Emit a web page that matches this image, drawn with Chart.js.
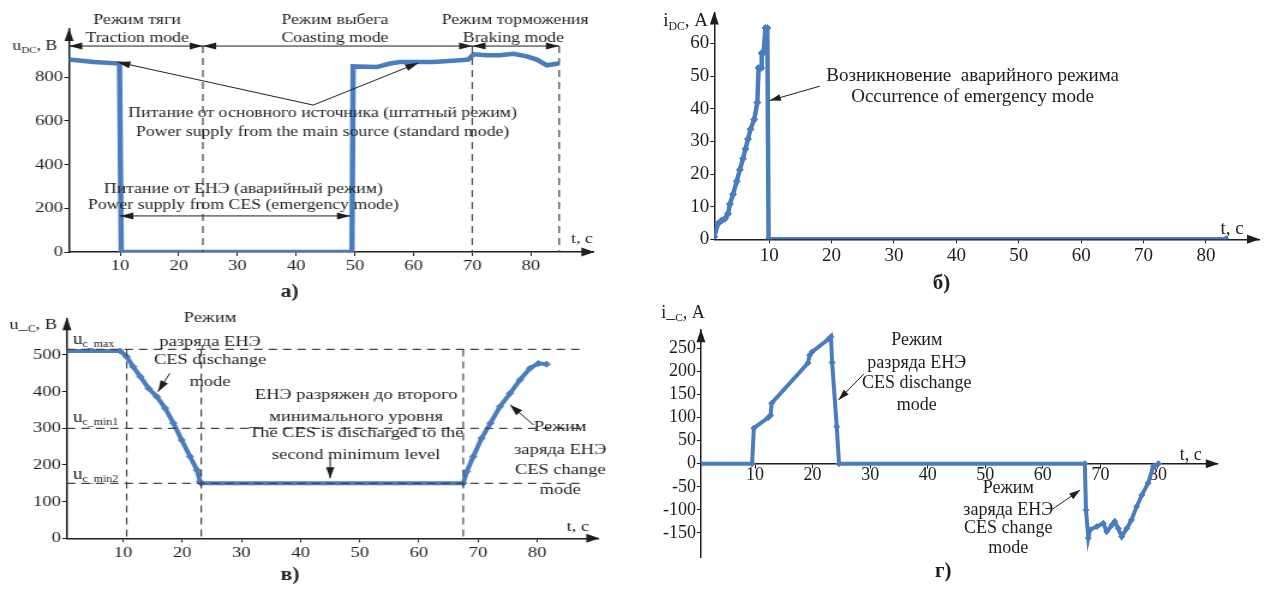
<!DOCTYPE html>
<html>
<head>
<meta charset="utf-8">
<script src="https://cdn.jsdelivr.net/npm/chart.js@4.4.1/dist/chart.umd.min.js"></script>
<style>
  html, body { margin: 0; padding: 0; background: #fff; }
  #wrap { position: relative; width: 1264px; height: 590px; overflow: hidden; }
  #wrap canvas { position: absolute; left: 0; top: 0; }
</style>
</head>
<body>
<div id="wrap">
  <canvas id="chA"></canvas>
  <canvas id="chB"></canvas>
  <canvas id="chC"></canvas>
  <canvas id="chD"></canvas>
</div>
<script>
// а) DC link voltage
const tA = [1.3, 5.5, 9.9, 10.2, 30, 49.5, 49.7, 53.7, 56.0, 57.7, 63.4, 67.9, 69.3, 70.2, 72.5, 74.7, 77.0, 79.3, 81.0, 82.7, 84.7];
const uDC = [880, 869, 862, 0, 0, 0, 849, 846, 862, 869, 869, 877, 880, 904, 900, 900, 907, 895, 880, 854, 862];
const ticksXA = [10, 20, 30, 40, 50, 60, 70, 80];
const ticksYA = [0, 200, 400, 600, 800];

// б) DC current
const tB = [1.2, 1.8, 2.4, 2.9, 3.4, 3.7, 4.2, 4.8, 5.3, 5.8, 6.2, 6.6, 7.0, 7.6, 8.1, 8.3, 8.7, 8.8, 9.1, 9.4, 9.7, 9.9, 83.2];
const iDC = [0.8, 4.8, 5.8, 6.3, 7.8, 10.8, 13.8, 17.8, 21.3, 24.7, 27.7, 30.7, 33.7, 36.7, 41.9, 52.5, 52.5, 57, 57.2, 64.7, 64.7, 0, 0];
const ticksXB = [10, 20, 30, 40, 50, 60, 70, 80];
const ticksYB = [0, 10, 20, 30, 40, 50, 60];

// в) storage voltage
const tC = [0.5, 9.5, 10.6, 11.7, 12.9, 14.3, 15.7, 17.1, 18.5, 19.9, 21.3, 22.5, 23.0, 23.2, 67.5, 68.1, 69.2, 70.6, 72.1, 73.7, 75.4, 77.1, 78.8, 80.2, 81.6];
const uC = [511, 511, 495, 468, 441, 409, 386, 355, 314, 268, 223, 186, 155, 150, 150, 182, 223, 273, 314, 359, 395, 432, 464, 477, 475];
const ticksXC = [10, 20, 30, 40, 50, 60, 70, 80];
const ticksYC = [0, 100, 200, 300, 400, 500];
const levelsC = [515, 300, 150];      // uc_max, uc_min1, uc_min2
const switchC = [10.6, 23.2, 67.5];

// г) storage current
const tD = [0.6, 9.5, 9.8, 12.3, 12.7, 12.9, 19.2, 19.5, 19.9, 22.8, 23.2, 23.4, 24.2, 24.6, 67.3, 67.5, 67.9, 68.2, 69.4, 70.5, 71.1, 72.0, 72.5, 73.1, 73.7, 74.6, 75.4, 76.3, 77.2, 78.3, 79.2, 80.1];
const iC = [0, 0, 77, 100, 105, 131, 218, 235, 242, 270, 275, 219, 80, 0, 0, -100, -161, -143, -136, -129, -147, -133, -125, -140, -158, -140, -122, -93, -68, -42, -6, 0];
const ticksXD = [10, 20, 30, 40, 50, 60, 70, 80];
const ticksYD = [-150, -100, -50, 0, 50, 100, 150, 200, 250];

const modesA = [1.3, 24.1, 70, 84.8];   // mode boundaries on panel а)

const FONT = '"Liberation Serif", "Times New Roman", serif';
const BLUE = '#4a7dbf';
const INK = '#1e1e1e';

const pts = (xs, ys) => xs.map((x, i) => ({ x, y: ys[i] }));

function head(ctx, x, y, dx, dy, len = 11, half = 3.5) {
  const px = -dy, py = dx;
  ctx.beginPath();
  ctx.moveTo(x, y);
  ctx.lineTo(x - dx * len + px * half, y - dy * len + py * half);
  ctx.lineTo(x - dx * len - px * half, y - dy * len - py * half);
  ctx.closePath();
  ctx.fill();
}

function arrow(ctx, x1, y1, x2, y2, both) {
  const d = Math.hypot(x2 - x1, y2 - y1), dx = (x2 - x1) / d, dy = (y2 - y1) / d;
  ctx.beginPath();
  ctx.moveTo(x1, y1);
  ctx.lineTo(x2, y2);
  ctx.stroke();
  head(ctx, x2, y2, dx, dy);
  if (both) head(ctx, x1, y1, -dx, -dy);
}

function rich(ctx, parts, x, y, size, align) {
  const fonts = parts.map(([, sub]) => `${sub ? size * 0.62 : size}px ${FONT}`);
  const widths = parts.map(([t], i) => { ctx.font = fonts[i]; return ctx.measureText(t).width; });
  const total = widths.reduce((a, b) => a + b, 0);
  let cx = align === 'right' ? x - total : align === 'center' ? x - total / 2 : x;
  ctx.textAlign = 'left';
  parts.forEach(([t, sub], i) => {
    ctx.font = fonts[i];
    ctx.fillText(t, cx, sub ? y + size * 0.28 : y);
    cx += widths[i];
  });
}

const notesA = [
  { k: 'rich', parts: [['u', 0], ['DC', 1], [', B', 0]], x: -0.7, y: 942, align: 'right' },
  { k: 'text', t: 'Режим тяги', x: 12.9, y: 1061 },
  { k: 'text', t: 'Traction mode', x: 12.9, y: 979 },
  { k: 'text', t: 'Режим выбега', x: 46.6, y: 1061 },
  { k: 'text', t: 'Coasting mode', x: 46.6, y: 979 },
  { k: 'text', t: 'Режим торможения', x: 77.3, y: 1061 },
  { k: 'text', t: 'Braking mode', x: 77.0, y: 979 },
  { k: 'arrow', x1: modesA[0], y1: 942, x2: modesA[1], y2: 942, both: true },
  { k: 'arrow', x1: modesA[1], y1: 942, x2: modesA[2], y2: 942, both: true },
  { k: 'arrow', x1: modesA[2], y1: 942, x2: modesA[3], y2: 942, both: true },
  { k: 'dashV', x: modesA[1], y1: 942, y2: 0 },
  { k: 'dashV', x: modesA[2], y1: 942, y2: 0 },
  { k: 'dashV', x: modesA[3], y1: 942, y2: 0 },
  { k: 'text', t: 'Питание от основного источника (штатный режим)', x: 44.5, y: 636 },
  { k: 'text', t: 'Power supply from the main source (standard mode)', x: 44.5, y: 549 },
  { k: 'arrow', x1: 42.9, y1: 672, x2: 9.5, y2: 869 },
  { k: 'arrow', x1: 42.9, y1: 672, x2: 60.8, y2: 865 },
  { k: 'text', t: 'Питание от ЕНЭ (аварийный режим)', x: 31, y: 286 },
  { k: 'text', t: 'Power supply from CES (emergency mode)', x: 31, y: 215 },
  { k: 'arrow', x1: 10, y1: 165, x2: 49.2, y2: 165, both: true },
  { k: 'text', t: 't, c', x: 88.7, y: 59 },
  { k: 'text', t: 'а)', x: 38.9, y: -183, bold: true }
];

const notesB = [
  { k: 'rich', parts: [['i', 0], ['DC', 1], [', A', 0]], x: 0.2, y: 66.8, align: 'right' },
  { k: 'text', t: 'Возникновение  аварийного режима', x: 42.6, y: 50.1 },
  { k: 'text', t: 'Occurrence of emergency mode', x: 42.6, y: 43.5 },
  { k: 'arrow', x1: 18.1, y1: 46.9, x2: 10.1, y2: 42.5 },
  { k: 'text', t: 't, c', x: 84.2, y: 3.3 },
  { k: 'text', t: 'б)', x: 37.6, y: -13.7, bold: true }
];

const notesC = [
  { k: 'rich', parts: [['u_', 0], ['C', 1], [', B', 0]], x: -1.17, y: 582, align: 'right' },
  { k: 'dashH', y: levelsC[0], x1: 0.5, x2: 87.8 },
  { k: 'dashH', y: levelsC[1], x1: 0.5, x2: 87.8 },
  { k: 'dashH', y: levelsC[2], x1: 0.5, x2: 87.8 },
  { k: 'dashV', x: switchC[0], y1: levelsC[0], y2: 0 },
  { k: 'dashV', x: switchC[1], y1: levelsC[0], y2: 0 },
  { k: 'dashV', x: switchC[2], y1: levelsC[0], y2: 0 },
  { k: 'rich', parts: [['u', 0], ['c_max', 1]], x: 1.5, y: 541, size: 16 },
  { k: 'rich', parts: [['u', 0], ['c_min1', 1]], x: 1.5, y: 328, size: 16 },
  { k: 'rich', parts: [['u', 0], ['c_min2', 1]], x: 1.5, y: 173, size: 16 },
  { k: 'text', t: 'Режим', x: 24.7, y: 601 },
  { k: 'text', t: 'разряда ЕНЭ', x: 24.7, y: 535 },
  { k: 'text', t: 'CES dischange', x: 24.7, y: 486 },
  { k: 'text', t: 'mode', x: 24.7, y: 426 },
  { k: 'arrow', x1: 17.9, y1: 450, x2: 15.9, y2: 400 },
  { k: 'text', t: 'ЕНЭ разряжен до второго', x: 49.4, y: 391 },
  { k: 'text', t: 'минимального уровня', x: 49.4, y: 332 },
  { k: 'text', t: 'The CES is discharged to the', x: 49.4, y: 286 },
  { k: 'text', t: 'second minimum level', x: 49.4, y: 227 },
  { k: 'arrow', x1: 45, y1: 222, x2: 45, y2: 164 },
  { k: 'text', t: 'Режим', x: 83.9, y: 304 },
  { k: 'text', t: 'заряда ЕНЭ', x: 83.9, y: 241 },
  { k: 'text', t: 'CES change', x: 83.9, y: 186 },
  { k: 'text', t: 'mode', x: 83.9, y: 132 },
  { k: 'arrow', x1: 79.4, y1: 309, x2: 75.4, y2: 364 },
  { k: 'text', t: 't, c', x: 86.9, y: 32 },
  { k: 'text', t: 'в)', x: 38.2, y: -100, bold: true }
];

const notesD = [
  { k: 'rich', parts: [['i_', 0], ['C', 1], [', A', 0]], x: -2.5, y: 326, align: 'center' },
  { k: 'text', t: 'Режим', x: 38.1, y: 268 },
  { k: 'text', t: 'разряда ЕНЭ', x: 38.1, y: 217 },
  { k: 'text', t: 'CES dischange', x: 38.1, y: 174 },
  { k: 'text', t: 'mode', x: 38.1, y: 127 },
  { k: 'arrow', x1: 28.9, y1: 194, x2: 24.5, y2: 138 },
  { k: 'text', t: 'Режим', x: 54, y: -53 },
  { k: 'text', t: 'заряда ЕНЭ', x: 54, y: -100 },
  { k: 'text', t: 'CES change', x: 54, y: -140 },
  { k: 'text', t: 'mode', x: 54, y: -183 },
  { k: 'arrow', x1: 61.5, y1: -100, x2: 66.5, y2: -57 },
  { k: 'text', t: 't, c', x: 85.7, y: 19 },
  { k: 'text', t: 'г)', x: 42.7, y: -234, bold: true }
];

// sx: horizontal stretch of the panel (the left half of the figure is wider than tall)
const panels = [
  { id: 'chA', rect: { l: 69, t: 29, r: 593, b: 252 }, xr: [1.3, 90.6], yr: [0, 1020], xt: ticksXA, yt: ticksYA,
    data: pts(tA, uDC), lw: 4.5, pr: 0, fs: 14.8, tfs: 15.5, bfs: 18, sx: 1.2, xpad: 1, notes: notesA },
  { id: 'chB', rect: { l: 714.3, t: 7.2, r: 1259.8, b: 239.3 }, xr: [1.2, 88.5], yr: [0, 69.5], xt: ticksXB, yt: ticksYB,
    data: pts(tB, iDC), lw: 4.5, pr: 3.5, fs: 19, tfs: 19, bfs: 21, sx: 1, xpad: 1, notes: notesB },
  { id: 'chC', rect: { l: 66.9, t: 318.3, r: 597.9, b: 538.3 }, xr: [0.5, 90.3], yr: [0, 600], xt: ticksXC, yt: ticksYC,
    data: pts(tC, uC), lw: 4, pr: 3, fs: 15.4, tfs: 15.5, bfs: 18, sx: 1.2, xpad: 1, notes: notesC },
  { id: 'chD', rect: { l: 700.9, t: 330.2, r: 1217.8, b: 557 }, xr: [0.6, 90.4], yr: [-202, 289], xt: ticksXD, yt: ticksYD,
    data: pts(tD, iC), lw: 4, pr: 3, fs: 18, tfs: 18, bfs: 21, sx: 1, xpad: -3, notes: notesD, zeroAxis: true }
];

function notesPlugin(P) {
  return {
    id: 'notes',
    afterDatasetsDraw(chart) {
      const ctx = chart.ctx, sx = chart.scales.x, sy = chart.scales.y;
      ctx.save();
      ctx.strokeStyle = '#444';
      ctx.lineWidth = 1.2;
      ctx.setLineDash([7, 5]);
      P.notes.forEach(n => {
        if (n.k !== 'dashH' && n.k !== 'dashV') return;
        ctx.beginPath();
        if (n.k === 'dashH') {
          ctx.moveTo(sx.getPixelForValue(n.x1), sy.getPixelForValue(n.y));
          ctx.lineTo(sx.getPixelForValue(n.x2), sy.getPixelForValue(n.y));
        } else {
          ctx.moveTo(sx.getPixelForValue(n.x), sy.getPixelForValue(n.y1));
          ctx.lineTo(sx.getPixelForValue(n.x), sy.getPixelForValue(n.y2));
        }
        ctx.stroke();
      });
      ctx.restore();
    },
    afterDraw(chart) {
      const ctx = chart.ctx, sx = chart.scales.x, sy = chart.scales.y;
      const a = chart.chartArea;
      ctx.save();
      ctx.fillStyle = INK;
      ctx.strokeStyle = INK;
      // axis arrowheads
      head(ctx, a.left, a.top - 1, 0, -1, 13, 4.5 / P.sx);
      head(ctx, a.right + 1, sy.getPixelForValue(0), 1, 0, 13 / P.sx, 4.5);
      ctx.textBaseline = 'middle';
      ctx.lineWidth = 1;
      P.notes.forEach(n => {
        if (n.k === 'text') {
          ctx.font = `${n.bold ? 'bold ' : ''}${n.bold ? P.bfs : P.fs}px ${FONT}`;
          ctx.textAlign = 'center';
          ctx.fillText(n.t, sx.getPixelForValue(n.x), sy.getPixelForValue(n.y));
        } else if (n.k === 'rich') {
          rich(ctx, n.parts, sx.getPixelForValue(n.x), sy.getPixelForValue(n.y), n.size || P.fs, n.align);
        } else if (n.k === 'arrow') {
          arrow(ctx, sx.getPixelForValue(n.x1), sy.getPixelForValue(n.y1),
            sx.getPixelForValue(n.x2), sy.getPixelForValue(n.y2), n.both);
        }
      });
      ctx.restore();
    }
  };
}

function makePanel(P) {
  const cv = document.getElementById(P.id);
  const W = Math.round(1264 / P.sx);
  cv.setAttribute('width', W);
  cv.setAttribute('height', 590);
  cv.style.width = '1264px';
  cv.style.height = '590px';
  const R = { l: P.rect.l / P.sx, r: P.rect.r / P.sx, t: P.rect.t, b: P.rect.b };
  const pad = { left: R.l - 40, top: R.t, right: W - R.r, bottom: 590 - R.b - 30 };
  const axisBase = (size) => ({
    grid: { drawOnChartArea: false, tickLength: 4, color: INK, lineWidth: 1 },
    border: { color: INK, width: 1.5 },
    ticks: { color: INK, font: { family: FONT, size }, padding: 1, maxRotation: 0, autoSkip: false }
  });
  const xAxis = axisBase(P.tfs);
  xAxis.ticks.padding = P.xpad;
  const chart = new Chart(cv, {
    type: 'line',
    data: {
      datasets: [{
        data: P.data,
        borderColor: BLUE,
        backgroundColor: BLUE,
        borderWidth: P.lw,
        pointRadius: P.pr,
        pointStyle: 'rectRot',
        pointBorderWidth: 1,
        tension: 0
      }]
    },
    options: {
      responsive: false,
      animation: false,
      devicePixelRatio: 1,
      layout: { padding: pad },
      plugins: { legend: { display: false }, tooltip: { enabled: false } },
      scales: {
        x: Object.assign(xAxis, {
          type: 'linear', min: P.xr[0], max: P.xr[1],
          position: P.zeroAxis ? { y: 0 } : 'bottom',
          afterBuildTicks: s => { s.ticks = P.xt.map(v => ({ value: v })); },
          afterFit: s => { s.height = 30; }
        }),
        y: Object.assign(axisBase(P.tfs), {
          type: 'linear', min: P.yr[0], max: P.yr[1],
          afterBuildTicks: s => { s.ticks = P.yt.map(v => ({ value: v })); },
          afterFit: s => { s.width = 40; }
        })
      }
    },
    plugins: [notesPlugin(P)]
  });
  // line the plot area up with the target rectangle (a few passes, the layout settles)
  for (let i = 0; i < 4; i++) {
    const ca = chart.chartArea;
    const p = chart.options.layout.padding;
    const next = {
      left: p.left + (R.l - ca.left),
      top: p.top + (R.t - ca.top),
      right: p.right + (ca.right - R.r),
      bottom: p.bottom + (ca.bottom - R.b)
    };
    chart.options.layout.padding = next;
    chart.update('none');
  }
  return chart;
}

panels.forEach(makePanel);
</script>
</body>
</html>
